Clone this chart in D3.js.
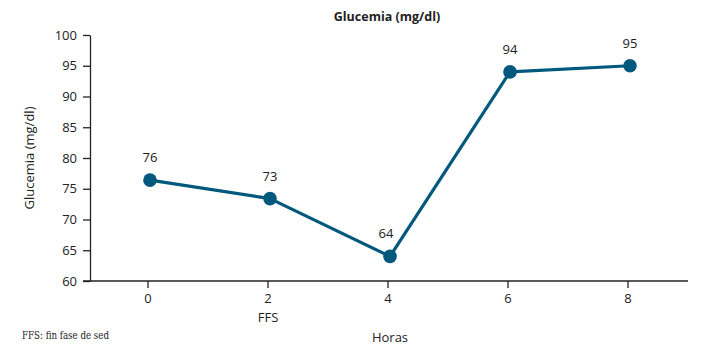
<!DOCTYPE html>
<html><head><meta charset="utf-8">
<script src="https://cdn.jsdelivr.net/npm/d3@7"></script>
<style>
body{margin:0;background:#fff;}
svg text{font-family:"Open Sans","Noto Sans",sans-serif;fill:#222;}
</style></head>
<body><svg id="c" width="702" height="360"></svg>
<script>
const hours = ["0","2","4","6","8"];
const glucose = [76.4, 73.4, 64, 94, 95];
const pointLabels = ["76","73","64","94","95"];
const yTicks = [60,65,70,75,80,85,90,95,100];
const title = "Glucemia (mg/dl)";
const yTitle = "Glucemia (mg/dl)";
const xTitle = "Horas";
const subLabel = "FFS";
const footnote = "FFS: fin fase de sed";

const svg = d3.select("#c");
const color = "#00597c";
const x = d3.scaleBand().domain(hours).range([88, 688]);
const xc = d => x(d) + x.bandwidth()/2;
const y = d3.scaleLinear().domain([60,100]).range([281, 35]);

// y axis
const ya = svg.append("g").attr("transform","translate(90,0)")
  .call(d3.axisLeft(y).tickValues(yTicks).tickSize(7).tickPadding(6).tickSizeOuter(0));
ya.select(".domain").attr("stroke","#222").attr("stroke-width",1.3);
ya.selectAll(".tick line").attr("stroke","#222").attr("stroke-width",1.3);
ya.selectAll("text").style("font-size","13px");

// x axis
const xa = svg.append("g").attr("transform","translate(0,281)")
  .call(d3.axisBottom(x).tickSize(7).tickPadding(6).tickSizeOuter(0));
xa.select(".domain").attr("d","M83,0H688").attr("stroke","#222").attr("stroke-width",1.3);
xa.selectAll(".tick line").attr("stroke","#222").attr("stroke-width",1.3);
xa.selectAll("text").style("font-size","13px");

const px = d => xc(d) + 2;
const line = d3.line().x((d,i)=>px(hours[i])).y(d=>y(d));
svg.append("path").datum(glucose).attr("d",line).attr("fill","none")
  .attr("stroke",color).attr("stroke-width",3.2).attr("stroke-linejoin","round");
svg.selectAll("circle.pt").data(glucose).join("circle").attr("class","pt")
  .attr("cx",(d,i)=>px(hours[i])).attr("cy",d=>y(d)).attr("r",6.8).attr("fill",color);
svg.selectAll("text.lbl").data(glucose).join("text").attr("class","lbl")
  .attr("x",(d,i)=>px(hours[i]) - (i===2?4:0)).attr("y",d=>y(d)-18)
  .attr("text-anchor","middle").style("font-size","13px").text((d,i)=>pointLabels[i]);

// titles
svg.append("text").attr("x",387).attr("y",21).attr("text-anchor","middle")
  .style("font-size","12.5px").style("font-weight","bold").text(title);
svg.append("text").attr("transform","translate(34,158) rotate(-90)").attr("text-anchor","middle")
  .style("font-size","13px").text(yTitle);
svg.append("text").attr("x",xc("2")).attr("y",322).attr("text-anchor","middle")
  .style("font-size","13px").text(subLabel);
svg.append("text").attr("x",390).attr("y",342).attr("text-anchor","middle")
  .style("font-size","13px").text(xTitle);
svg.append("text").attr("x",22).attr("y",339)
  .style("font-size","11px").style("font-family","'DejaVu Serif','Liberation Serif',serif")
  .attr("textLength",87).attr("lengthAdjust","spacingAndGlyphs").text(footnote);
</script></body></html>
